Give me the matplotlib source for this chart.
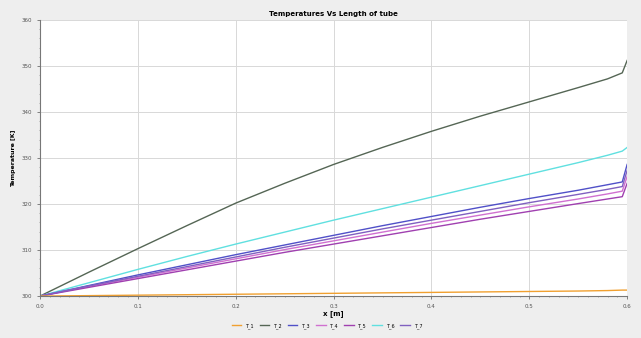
import matplotlib
matplotlib.use("Agg")
import matplotlib.pyplot as plt
from matplotlib.ticker import MultipleLocator

x = [0.0, 0.05, 0.1, 0.15, 0.2, 0.25, 0.3, 0.35, 0.4, 0.45, 0.5, 0.55, 0.58, 0.595, 0.6]
series_labels = ["T_1", "T_2", "T_3", "T_4", "T_5", "T_6", "T_7"]
series_colors = ["#f0a030", "#556655", "#5050c8", "#d070d0", "#a040b0", "#60e0e0", "#8060c0"]
series_values = [
    [300.0, 300.1, 300.2, 300.3, 300.4, 300.5, 300.6, 300.7, 300.8, 300.9, 301.0, 301.1, 301.2, 301.3, 301.3],
    [300.0, 305.2, 310.3, 315.3, 320.2, 324.5, 328.6, 332.3, 335.8, 339.1, 342.2, 345.3, 347.2, 348.5, 351.2],
    [300.0, 302.3, 304.6, 306.8, 309.0, 311.1, 313.2, 315.3, 317.3, 319.3, 321.2, 323.0, 324.2, 324.8, 328.6],
    [300.0, 302.1, 304.1, 306.1, 308.1, 310.1, 312.0, 313.9, 315.8, 317.6, 319.4, 321.1, 322.2, 322.8, 326.0],
    [300.0, 301.9, 303.8, 305.7, 307.6, 309.5, 311.3, 313.1, 314.9, 316.7, 318.4, 320.1, 321.1, 321.6, 324.5],
    [300.0, 302.9, 305.8, 308.6, 311.3, 313.9, 316.5, 319.0, 321.5, 324.0, 326.5, 329.0, 330.6, 331.5, 332.3],
    [300.0, 302.2, 304.3, 306.4, 308.5, 310.6, 312.6, 314.6, 316.5, 318.4, 320.3, 322.1, 323.2, 323.8, 327.3],
]
title = "Temperatures Vs Length of tube"
xlabel = "x [m]"
ylabel = "Temperature [K]"

fig = plt.figure(figsize=(6.41, 3.38), dpi=100)
fig.patch.set_facecolor("#eeeeee")
ax = fig.add_axes([0.0624, 0.124, 0.916, 0.817])
ax.set_facecolor("white")
order = [1, 5, 2, 3, 4, 6, 0]
for i in order:
    ax.plot(x, series_values[i], color=series_colors[i], lw=1.0, label=series_labels[i])
ax.set_xlim(0, 0.6)
ax.set_ylim(300, 360)
ax.xaxis.set_major_locator(MultipleLocator(0.1))
ax.yaxis.set_major_locator(MultipleLocator(10))
ax.xaxis.set_minor_locator(MultipleLocator(0.01))
ax.yaxis.set_minor_locator(MultipleLocator(2))
ax.grid(True, which="major", color="#d8d8d8", lw=0.7)
ax.tick_params(labelsize=4, length=2, width=0.5, colors="#555555")
ax.tick_params(which="minor", length=1, width=0.4, colors="#777777")
for s in ["top", "right"]:
    ax.spines[s].set_visible(False)
for s in ["left", "bottom"]:
    ax.spines[s].set_color("#777777")
    ax.spines[s].set_linewidth(0.8)
ax.set_title(title, fontsize=5, fontweight="bold", pad=3)
ax.set_xlabel(xlabel, fontsize=5, fontweight="bold", labelpad=1)
ax.set_ylabel(ylabel, fontsize=4.5, fontweight="bold", labelpad=4)
handles, labels = ax.get_legend_handles_labels()
hmap = dict(zip(labels, handles))
fig.legend([hmap[l] for l in series_labels], series_labels, loc="lower center",
           bbox_to_anchor=(0.51, 0.015), ncol=7, fontsize=3.5, frameon=False,
           handlelength=2, columnspacing=1.2)
fig.savefig("out.png", dpi=100, facecolor=fig.get_facecolor())
